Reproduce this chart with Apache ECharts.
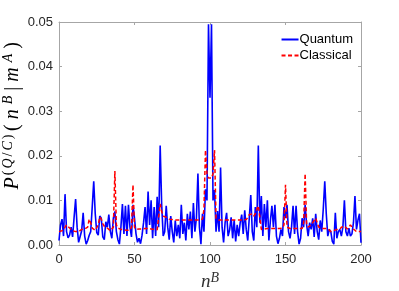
<!DOCTYPE html>
<html><head><meta charset="utf-8">
<script src="https://cdn.jsdelivr.net/npm/echarts@6/dist/echarts.min.js"></script>
<style>html,body{margin:0;padding:0;background:#fff}#c{width:399px;height:291px}</style>
</head><body><div id="c"></div><script>
// n^B runs 0..200 (index of each value)
const quantum = [
0.0010,0.0045,0.0058,0.0020,0.0114,0.0030,0.0016,0.0022,0.0040,0.0018,
0.0062,0.0103,0.0040,0.0006,0.0008,0.0032,0.0072,0.0020,0.0002,0.0010,
0.0022,0.0030,0.0085,0.0143,0.0070,0.0028,0.0022,0.0065,0.0060,0.0018,
0.0012,0.0052,0.0040,0.0068,0.0030,0.0015,0.0060,0.0075,0.0030,0.0012,
0.0002,0.0040,0.0092,0.0025,0.0088,0.0020,0.0090,0.0040,0.0018,0.0090,
0.0060,0.0025,0.0006,0.0015,0.0003,0.0022,0.0050,0.0085,0.0025,0.0120,
0.0045,0.0100,0.0015,0.0085,0.0020,0.0108,0.0040,0.0223,0.0090,0.0020,
0.0030,0.0088,0.0040,0.0012,0.0065,0.0030,0.0006,0.0055,0.0020,0.0045,
0.0015,0.0090,0.0025,0.0050,0.0010,0.0070,0.0035,0.0075,0.0015,0.0094,
0.0030,0.0060,0.0160,0.0040,0.0002,0.0070,0.0030,0.0125,0.0100,0.0495,
0.0330,
0.0495,0.0100,0.0123,0.0030,0.0076,0.0030,0.0174,0.0040,0.0006,0.0050,
0.0072,0.0020,0.0034,0.0062,0.0015,0.0056,0.0008,0.0045,0.0020,0.0050,
0.0068,0.0025,0.0078,0.0035,0.0010,0.0060,0.0112,0.0030,0.0010,0.0085,
0.0040,0.0223,0.0050,0.0110,0.0020,0.0092,0.0040,0.0100,0.0010,0.0055,
0.0088,0.0040,0.0090,0.0020,0.0003,0.0015,0.0035,0.0020,0.0085,0.0060,
0.0090,0.0030,0.0015,0.0040,0.0088,0.0025,0.0088,0.0030,0.0002,0.0015,
0.0060,0.0040,0.0090,0.0045,0.0020,0.0050,0.0035,0.0060,0.0018,0.0070,
0.0030,0.0012,0.0055,0.0030,0.0080,0.0143,0.0070,0.0020,0.0035,0.0030,
0.0008,0.0002,0.0072,0.0015,0.0030,0.0035,0.0020,0.0040,0.0100,0.0030,
0.0020,0.0038,0.0020,0.0025,0.0050,0.0110,0.0035,0.0056,0.0070,0.0005
];
const classical = [
0.0030,0.0030,0.0032,0.0035,0.0040,0.0045,0.0042,0.0038,0.0035,0.0032,
0.0030,0.0030,0.0029,0.0030,0.0032,0.0035,0.0038,0.0036,0.0033,0.0040,
0.0058,0.0050,0.0038,0.0034,0.0033,0.0035,0.0045,0.0063,0.0058,0.0048,
0.0042,0.0040,0.0038,0.0035,0.0032,0.0030,0.0040,0.0166,0.0045,0.0038,
0.0036,0.0035,0.0034,0.0034,0.0033,0.0033,0.0032,0.0033,0.0040,0.0135,
0.0040,0.0035,0.0035,0.0036,0.0036,0.0036,0.0037,0.0037,0.0037,0.0037,
0.0036,0.0036,0.0035,0.0035,0.0034,0.0034,0.0034,0.0092,0.0075,0.0065,
0.0063,0.0062,0.0060,0.0058,0.0057,0.0057,0.0056,0.0056,0.0056,0.0056,
0.0056,0.0056,0.0056,0.0056,0.0056,0.0056,0.0056,0.0056,0.0056,0.0056,
0.0056,0.0056,0.0056,0.0056,0.0057,0.0058,0.0080,0.0213,0.0160,0.0150,
0.0150,
0.0150,0.0160,0.0213,0.0060,0.0057,0.0056,0.0056,0.0056,0.0056,0.0056,
0.0056,0.0056,0.0056,0.0056,0.0056,0.0056,0.0056,0.0056,0.0056,0.0056,
0.0056,0.0056,0.0056,0.0057,0.0062,0.0068,0.0072,0.0070,0.0065,0.0070,
0.0080,0.0088,0.0090,0.0035,0.0036,0.0036,0.0037,0.0037,0.0037,0.0037,
0.0037,0.0037,0.0037,0.0037,0.0037,0.0037,0.0038,0.0038,0.0045,0.0135,
0.0040,0.0037,0.0037,0.0037,0.0037,0.0037,0.0037,0.0037,0.0037,0.0037,
0.0037,0.0050,0.0160,0.0045,0.0040,0.0042,0.0045,0.0050,0.0055,0.0060,
0.0063,0.0040,0.0037,0.0037,0.0037,0.0037,0.0037,0.0037,0.0035,0.0030,
0.0030,0.0032,0.0035,0.0035,0.0035,0.0035,0.0040,0.0044,0.0042,0.0038,
0.0036,0.0040,0.0045,0.0042,0.0036,0.0032,0.0030,0.0030,0.0030,0.0030
];
const xTicks = [0, 50, 100, 150, 200];
const yTicks = [0, 0.01, 0.02, 0.03, 0.04, 0.05];
const seriesNames = ['Quantum', 'Classical'];

const axisGrey = '#a6a6a6';
const labelColor = '#262626';
const sansFont = 'Liberation Sans, Arial, sans-serif';
const serifFont = 'Liberation Serif, DejaVu Serif, serif';

const chart = echarts.init(document.getElementById('c'), null, {renderer: 'canvas'});
const frameAxis = (extra) => Object.assign({
  axisLine: {show: true, onZero: false, lineStyle: {color: axisGrey, width: 1}},
  axisTick: {show: true, inside: true, length: 3, lineStyle: {color: axisGrey}},
  splitLine: {show: false}
}, extra);

const LH = 21;
const mathStyle = (size, italic, sup, pad) => ({
  fontFamily: serifFont, fontStyle: italic ? 'italic' : 'normal', fontSize: size,
  color: '#333', lineHeight: LH, verticalAlign: sup ? 'top' : 'bottom',
  padding: [0, pad, 0, pad]
});
const mathRich = {
  it: mathStyle(19, true, false, 0),
  si: mathStyle(14, true, true, 0),
  // spaced variants for the long y label
  P: mathStyle(20, true, false, 1),
  a: mathStyle(20, true, false, 2.5),
  b: mathStyle(20, false, false, 2.5),
  c: mathStyle(14, true, true, 1),
  d: mathStyle(14, false, true, 1),
  e: mathStyle(14, true, true, 2.5)
};

chart.setOption({
  animation: false,
  backgroundColor: '#fff',
  grid: {left: 59, right: 38, top: 22, bottom: 46, containLabel: false, outerBoundsMode: 'none'},
  xAxis: [
    frameAxis({type: 'value', position: 'bottom', min: xTicks[0], max: xTicks[xTicks.length-1], interval: 50,
      axisLabel: {color: labelColor, fontSize: 13, fontFamily: sansFont, margin: 8},
      name: '{it|n}{si|B}', nameLocation: 'middle', nameGap: 22,
      nameTextStyle: {rich: mathRich}}),
    frameAxis({type: 'value', position: 'top', min: xTicks[0], max: xTicks[xTicks.length-1], interval: 50,
      axisLabel: {show: false}})
  ],
  yAxis: [
    frameAxis({type: 'value', position: 'left', min: yTicks[0], max: yTicks[yTicks.length-1], interval: 0.01,
      axisLabel: {color: labelColor, fontSize: 13, fontFamily: sansFont, margin: 6,
        formatter: v => v.toFixed(2)}}),
    frameAxis({type: 'value', position: 'right', min: yTicks[0], max: yTicks[yTicks.length-1], interval: 0.01,
      axisLabel: {show: false}})
  ],
  graphic: [{
    type: 'text', x: 12, y: 115, rotation: Math.PI / 2,
    style: {
      text: '{P|P}{d|(}{c|Q}{d|/}{c|C}{d|)}{b|(}{a|n}{e|B}{b||}{a|m}{e|A}{b|)}',
      rich: mathRich, align: 'center', verticalAlign: 'middle'
    }
  }],
  legend: {
    orient: 'vertical', right: 46, top: 33, padding: 0,
    itemWidth: 17, itemHeight: 10, itemGap: 3,
    itemStyle: {opacity: 0},
    textStyle: {color: '#000', fontSize: 13, fontFamily: sansFont, padding: [0, 0, 0, -4]},
    data: seriesNames
  },
  series: [
    {name: seriesNames[0], type: 'line', symbol: 'none', xAxisIndex: 0, yAxisIndex: 0,
     lineStyle: {color: '#0000ff', width: 1.6}, itemStyle: {color: '#0000ff'},
     data: quantum.map((v, i) => [i, v])},
    {name: seriesNames[1], type: 'line', symbol: 'none', xAxisIndex: 0, yAxisIndex: 0,
     lineStyle: {color: '#ff0000', width: 1.5, type: [4, 2.5]}, itemStyle: {color: '#ff0000'},
     data: classical.map((v, i) => [i, v])}
  ]
});
</script></body></html>
